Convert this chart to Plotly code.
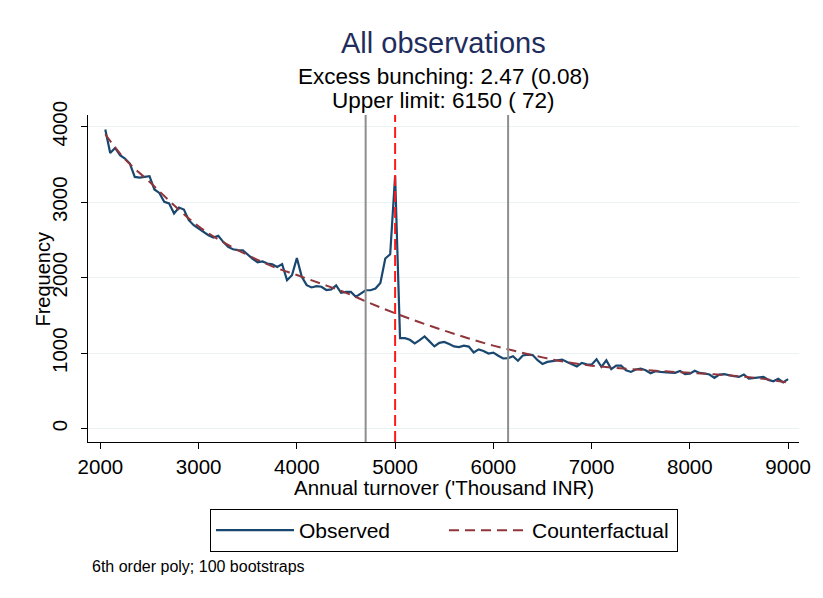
import plotly.graph_objects as go

# ---- data ----
bin_start = 2050
bin_width = 50
observed = [
    3963, 3653, 3719, 3623, 3579, 3512, 3335, 3327, 3335, 3344,
    3168, 3123, 3004, 2983, 2850, 2930, 2903, 2762, 2695, 2651,
    2598, 2563, 2532, 2554, 2475, 2408, 2377, 2365, 2364, 2305,
    2250, 2205, 2215, 2188, 2179, 2143, 2180, 1967, 2033, 2260,
    2011, 1901, 1871, 1889, 1880, 1837, 1845, 1897, 1799, 1812,
    1812, 1746, 1790, 1834, 1834, 1856, 1931, 2254, 2310, 3350,
    1200, 1200, 1178, 1130, 1172, 1222, 1157, 1090, 1137, 1150,
    1122, 1090, 1080, 1100, 1088, 1010, 1050, 1030, 995, 1008,
    967, 930, 935, 960, 900, 970, 980, 975, 907, 858,
    885, 898, 905, 916, 883, 854, 825, 872, 852, 848,
    920, 820, 907, 790, 835, 835, 775, 752, 784, 797,
    775, 735, 762, 752, 752, 744, 740, 766, 722, 730,
    768, 739, 731, 718, 673, 718, 722, 704, 695, 686,
    718, 664, 673, 673, 686, 647, 629, 660, 612, 656,
]
turnover = [bin_start + bin_width * i for i in range(len(observed))]

cf_turnover = [2050, 2250, 2500, 2750, 3000, 3250, 3500, 3750, 4000, 4250,
               4500, 4750, 5000, 5250, 5500, 5750, 6000, 6250, 6500, 6750,
               7000, 7250, 7500, 7750, 8000, 8250, 8500, 8750, 9000]
counterfactual = [3900, 3570, 3270, 2960, 2680, 2470, 2300, 2150, 2035, 1920,
                  1800, 1660, 1530, 1410, 1300, 1195, 1100, 1020, 945, 880,
                  835, 805, 780, 760, 740, 720, 695, 660, 610]

lower_limit = 4700
threshold = 5000
upper_limit = 6150

x_ticks = [2000, 3000, 4000, 5000, 6000, 7000, 8000, 9000]
y_ticks = [0, 1000, 2000, 3000, 4000]

title_text = "All observations"
sub1 = "Excess bunching: 2.47 (0.08)"
sub2 = "Upper limit: 6150 ( 72)"
note_text = "6th order poly; 100 bootstraps"

FONT = "Liberation Sans, Arial, sans-serif"

fig = go.Figure()
fig.add_trace(go.Scatter(x=turnover, y=observed, mode="lines", name="Observed",
                         line=dict(color="#1a476f", width=2.2)))
fig.add_trace(go.Scatter(x=cf_turnover, y=counterfactual, mode="lines", name="Counterfactual",
                         line=dict(color="#90353b", width=2, dash="10px,6px", shape="spline")))

for xv in (lower_limit, upper_limit):
    fig.add_shape(type="line", x0=xv, x1=xv, xref="x", y0=0, y1=1, yref="paper",
                  line=dict(color="#8e8e8e", width=2), layer="above")
fig.add_shape(type="line", x0=threshold, x1=threshold, xref="x", y0=0, y1=1, yref="paper",
              line=dict(color="#ff1a1a", width=2, dash="11px,5px"), layer="above")

L, R, T, B = 88, 16, 115, 156
W, H = 823, 598
ph = H - T - B

def py(p):
    return (H - B - p) / ph

def px(p):
    return (p - L) / (W - L - R)

fig.add_annotation(text=title_text, x=px(447), y=py(43), xref="paper", yref="paper",
                   showarrow=False, font=dict(family=FONT, size=29, color="#1f2d5c"),
                   yanchor="middle")
fig.add_annotation(text=sub1, x=px(447), y=py(77), xref="paper", yref="paper",
                   showarrow=False, font=dict(family=FONT, size=22.5, color="black"),
                   yanchor="middle")
fig.add_annotation(text=sub2, x=px(447), y=py(100), xref="paper", yref="paper",
                   showarrow=False, font=dict(family=FONT, size=22.5, color="black"),
                   yanchor="middle")
fig.add_annotation(text="Annual turnover ('Thousand INR)", x=px(448), y=py(487),
                   xref="paper", yref="paper", showarrow=False,
                   font=dict(family=FONT, size=20.5, color="black"), yanchor="middle")
fig.add_annotation(text="Frequency", x=px(42), y=py(279), xref="paper", yref="paper",
                   showarrow=False, textangle=-90,
                   font=dict(family=FONT, size=20, color="black"), xanchor="center", yanchor="middle")
fig.add_annotation(text=note_text, x=px(90), y=py(566), xref="paper", yref="paper",
                   showarrow=False, xanchor="left", yanchor="middle",
                   font=dict(family=FONT, size=16, color="black"))

fig.update_layout(
    width=W, height=H,
    margin=dict(l=L, r=R, t=T, b=B),
    paper_bgcolor="white", plot_bgcolor="white",
    font=dict(family=FONT, size=20, color="black"),
    showlegend=True,
    legend=dict(orientation="h", x=px(448), xanchor="center", y=py(509), yanchor="top",
                bordercolor="black", borderwidth=1, font=dict(size=21),
                itemwidth=78, entrywidth=140, bgcolor="white"),
    xaxis=dict(range=[1874, 9111], tickvals=x_ticks, showgrid=False, zeroline=False,
               showline=True, linecolor="black", linewidth=1, ticks="outside",
               ticklen=6, tickcolor="black", tickfont=dict(size=20.5)),
    yaxis=dict(range=[-176, 4155], tickvals=y_ticks, showgrid=True, gridcolor="#eaf2f3",
               gridwidth=1, zeroline=False, showline=True, linecolor="black", linewidth=1,
               ticks="outside", ticklen=6, tickcolor="black", tickangle=-90,
               tickfont=dict(size=20.5), ticklabelstandoff=6),
)

fig.write_html("out.html")
